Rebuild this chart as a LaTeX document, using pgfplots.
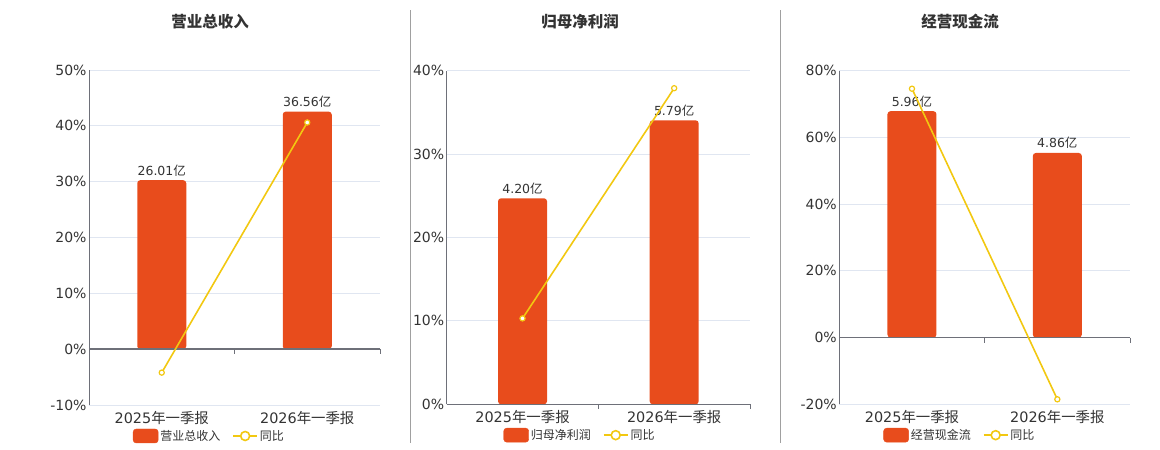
\documentclass[border=0pt]{standalone}
\usepackage{pgfplots}
\pgfplotsset{compat=1.18}
\usepackage{fontspec}
\setmainfont{DejaVu Sans}
\newfontfamily\cjk{Noto Sans CJK SC}
\definecolor{barc}{HTML}{E84C1C}
\definecolor{linec}{HTML}{F2C811}
\definecolor{gridc}{HTML}{E0E6F1}
\definecolor{axisc}{HTML}{6E7079}
\definecolor{textc}{HTML}{333333}
\definecolor{sepc}{HTML}{A0A0A0}
\pgfplotsset{
  pbase/.style={scale only axis, anchor=south west, xmin=-0.5, xmax=1.5, xtick={0,1}, clip=false,
    /pgf/number format/assume math mode=true},
  pgrid/.style={pbase, axis x line*=bottom, axis y line*=left,
    x axis line style={draw=gridc, line width=0.8pt}, y axis line style={draw=axisc, line width=0.9pt},
    ymajorgrids, grid style={draw=gridc, line width=0.8pt}, major tick length=0pt,
    xticklabel style={font=\fontsize{14.4}{16}\selectfont, text=textc, yshift=-3pt},
    yticklabel={\pgfmathprintnumber{\tick}\%},
    yticklabel style={font=\fontsize{14}{16}\selectfont, text=textc, xshift=1pt}},
  pbar/.style={pbase, hide axis, ybar, bar width=49pt,
    nodes near coords={\pgfmathprintnumber[fixed,fixed zerofill,precision=2]{\pgfplotspointmeta}{\cjk 亿}},
    nodes near coords style={font=\fontsize{12.5}{14}\selectfont, text=textc, inner sep=2pt, yshift=2pt}},
  pline/.style={pbase, hide axis, legend columns=2,
    legend style={draw=none, fill=none, anchor=center, font=\fontsize{12}{14}\selectfont, text=textc,
      /tikz/every even column/.append style={column sep=10pt}}},
  barstyle/.style={fill=barc, draw=none, rounded corners=3pt},
  linestyle/.style={linec, line width=1.6pt, mark=*, mark size=2.6pt, mark options={fill=white, line width=1.2pt},
    legend image code/.code={\draw[linec, line width=1.6pt] (0pt,0pt) -- (24pt,0pt);
      \draw[linec, line width=1.6pt, fill=white] (12pt,0pt) circle (4.5pt);}},
  barlegend/.style={legend image code/.code={\fill[barc, rounded corners=3pt] (0pt,-7pt) rectangle (25pt,7pt);}},
}
\begin{document}
\begin{tikzpicture}
\path[use as bounding box] (0pt,0pt) rectangle (1160pt,450pt);
% separators
\draw[sepc, line width=0.9pt] (410pt,7pt) -- (410pt,440pt);
\draw[sepc, line width=0.9pt] (780pt,7pt) -- (780pt,440pt);
% titles
\node[font=\cjk\bfseries\fontsize{15.5}{18}\selectfont, text=textc] at (210pt,428pt) {营业总收入};
\node[font=\cjk\bfseries\fontsize{15.5}{18}\selectfont, text=textc] at (580pt,428pt) {归母净利润};
\node[font=\cjk\bfseries\fontsize{15.5}{18}\selectfont, text=textc] at (960pt,428pt) {经营现金流};

% ===== Panel 1 =====
\begin{axis}[pgrid, at={(89pt,45pt)}, width=291pt, height=335pt, ymin=-10, ymax=50,
  ytick={-10,0,10,20,30,40,50}, xticklabels={{2025{\cjk 年一季报}},{2026{\cjk 年一季报}}}]
\end{axis}
\begin{axis}[pbar, at={(89pt,45pt)}, width=291pt, height=335pt, ymin=-8.595, ymax=42.97]
\addplot[barstyle] coordinates {(0,26.01) (1,36.56)};
\end{axis}
\begin{axis}[pline, at={(89pt,45pt)}, width=291pt, height=335pt, ymin=-10, ymax=50,
  legend style={at={(0.414,-0.0925)}}]
\draw[axisc, line width=1.4pt] (axis cs:-0.5,0) -- (axis cs:1.5,0);
\draw[axisc, line width=0.9pt] (axis cs:0.5,0) -- ++(0pt,-5pt);
\draw[axisc, line width=0.9pt] (axis cs:1.5,0) -- ++(0pt,-5pt);
\addlegendimage{barlegend}
\addlegendentry{{\cjk 营业总收入}}
\addplot[linestyle] coordinates {(0,-4.2) (1,40.6)};
\addlegendentry{{\cjk 同比}}
\end{axis}

% ===== Panel 2 =====
\begin{axis}[pgrid, at={(446.7pt,45.7pt)}, width=303.3pt, height=333.6pt, ymin=0, ymax=40,
  ytick={0,10,20,30,40}, xticklabels={{2025{\cjk 年一季报}},{2026{\cjk 年一季报}}}]
\end{axis}
\begin{axis}[pbar, at={(446.7pt,45.7pt)}, width=303.3pt, height=333.6pt, ymin=0, ymax=6.8015]
\addplot[barstyle] coordinates {(0,4.20) (1,5.79)};
\end{axis}
\begin{axis}[pline, at={(446.7pt,45.7pt)}, width=303.3pt, height=333.6pt, ymin=0, ymax=40,
  legend style={at={(0.4395,-0.0925)}}]
\draw[axisc, line width=1.4pt] (axis cs:-0.5,0) -- (axis cs:1.5,0);
\draw[axisc, line width=0.9pt] (axis cs:0.5,0) -- ++(0pt,-5pt);
\draw[axisc, line width=0.9pt] (axis cs:1.5,0) -- ++(0pt,-5pt);
\addlegendimage{barlegend}
\addlegendentry{{\cjk 归母净利润}}
\addplot[linestyle] coordinates {(0,10.3) (1,37.9)};
\addlegendentry{{\cjk 同比}}
\end{axis}

% ===== Panel 3 =====
\begin{axis}[pgrid, at={(839.3pt,45.7pt)}, width=290.7pt, height=333.6pt, ymin=-20, ymax=80,
  ytick={-20,0,20,40,60,80}, xticklabels={{2025{\cjk 年一季报}},{2026{\cjk 年一季报}}}]
\end{axis}
\begin{axis}[pbar, at={(839.3pt,45.7pt)}, width=290.7pt, height=333.6pt, ymin=-1.7565, ymax=7.026]
\addplot[barstyle] coordinates {(0,5.96) (1,4.86)};
\end{axis}
\begin{axis}[pline, at={(839.3pt,45.7pt)}, width=290.7pt, height=333.6pt, ymin=-20, ymax=80,
  legend style={at={(0.415,-0.0925)}}]
\draw[axisc, line width=1.4pt] (axis cs:-0.5,0) -- (axis cs:1.5,0);
\draw[axisc, line width=0.9pt] (axis cs:0.5,0) -- ++(0pt,-5pt);
\draw[axisc, line width=0.9pt] (axis cs:1.5,0) -- ++(0pt,-5pt);
\addlegendimage{barlegend}
\addlegendentry{{\cjk 经营现金流}}
\addplot[linestyle] coordinates {(0,74.6) (1,-18.5)};
\addlegendentry{{\cjk 同比}}
\end{axis}
\end{tikzpicture}
\end{document}
